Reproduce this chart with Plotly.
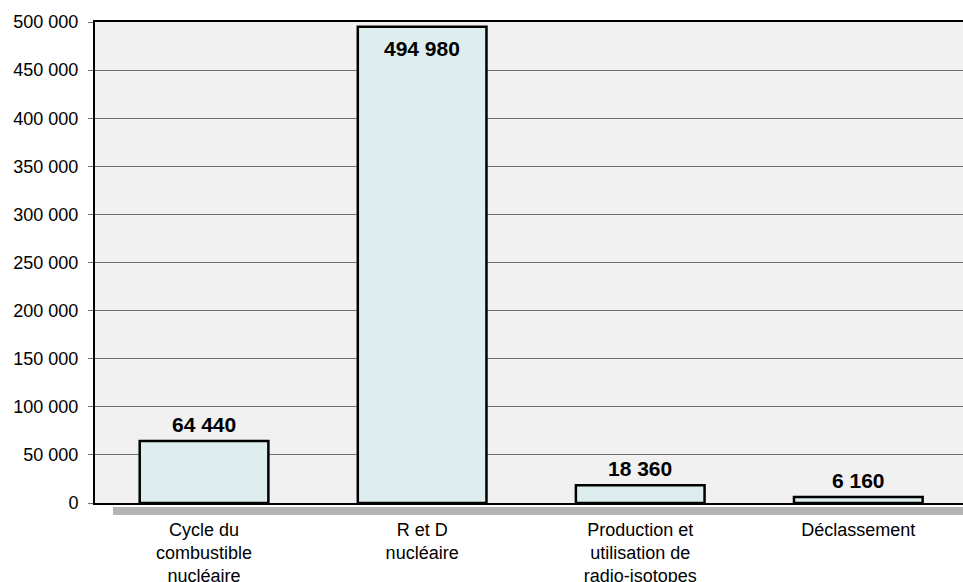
import plotly.graph_objects as go

categories = ["Cycle du<br>combustible<br>nucléaire", "R et D<br>nucléaire",
              "Production et<br>utilisation de<br>radio-isotopes", "Déclassement"]
values = [64440, 494980, 18360, 6160]
value_labels = ["64 440", "494 980", "18 360", "6 160"]
ytick_vals = [0, 50000, 100000, 150000, 200000, 250000, 300000, 350000, 400000, 450000, 500000]
ytick_text = ["0", "50 000", "100 000", "150 000", "200 000", "250 000", "300 000",
              "350 000", "400 000", "450 000", "500 000"]

FONT = "Liberation Sans, Arial, sans-serif"
xs = list(range(len(categories)))

fig = go.Figure()
fig.add_trace(go.Bar(
    x=xs, y=values, width=0.59,
    marker=dict(color="#deeded", line=dict(color="black", width=2.5)),
    hoverinfo="skip",
))

for xi, v, lab in zip(xs, values, value_labels):
    inside = v > 0.9 * 500000
    fig.add_annotation(x=xi, y=v, text="<b>" + lab + "</b>", showarrow=False,
                       xref="x", yref="y", yanchor="middle",
                       yshift=-22 if inside else 17,
                       font=dict(family=FONT, size=21, color="black"))

# grey floor strip under the axis
fig.add_shape(type="rect", xref="paper", yref="paper",
              x0=0.0207, x1=1.0, y0=-0.025, y1=-0.0085,
              fillcolor="#b4b4b4", line=dict(width=0), layer="below")

fig.update_layout(
    width=963, height=582,
    margin=dict(l=95, r=0, t=22, b=79, autoexpand=False),
    paper_bgcolor="white", plot_bgcolor="#f1f1f1",
    showlegend=False,
    font=dict(family=FONT, size=18, color="black"),
    xaxis=dict(range=[-0.5, 3.48], tickvals=xs, ticktext=categories,
               showgrid=False, zeroline=False, showline=True, linecolor="black",
               linewidth=2, mirror=True, ticks="", ticklabelstandoff=9,
               automargin=False,
               tickfont=dict(family=FONT, size=18, color="black")),
    yaxis=dict(range=[0, 500000], tickvals=ytick_vals, ticktext=ytick_text,
               showgrid=True, gridcolor="#6e6e6e", gridwidth=1, zeroline=False,
               showline=True, linecolor="black", linewidth=2,
               ticks="outside", ticklen=5, tickcolor="#6e6e6e", tickwidth=1,
               ticklabelstandoff=6, automargin=False,
               tickfont=dict(family=FONT, size=18, color="black")),
)

post = ("document.body.style.margin='0';document.body.style.padding='0';"
        "document.body.style.overflow='hidden';"
        "document.documentElement.style.overflow='hidden';"
        "var gd=document.getElementById('{plot_id}');"
        "Plotly.relayout(gd,{width:963,height:582});")

fig.write_html("out.html", post_script=post,
               config={"responsive": False, "displayModeBar": False})
